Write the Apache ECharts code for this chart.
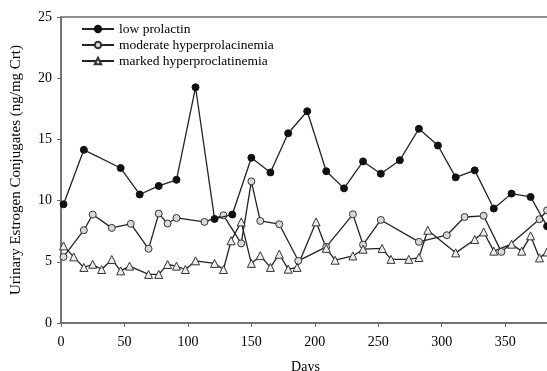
<!DOCTYPE html>
<html>
<head>
<meta charset="utf-8">
<script src="https://cdn.jsdelivr.net/npm/echarts@6/dist/echarts.min.js"></script>
<style>
  html, body { margin: 0; padding: 0; background: #fff; }
  #chart { width: 547px; height: 371px; }
</style>
</head>
<body>
<div id="chart"></div>
<script>
// Urinary estrogen conjugates by day, three prolactin groups
const lowDays = [2, 18, 47, 62, 77, 91, 106, 121, 135, 150, 165, 179, 194, 209, 223, 238, 252, 267, 282, 297, 311, 326, 341, 355, 370, 383];
const lowValues = [9.7, 14.15, 12.66, 10.5, 11.2, 11.7, 19.26, 8.5, 8.86, 13.5, 12.3, 15.5, 17.3, 12.4, 11.0, 13.2, 12.2, 13.3, 15.87, 14.5, 11.9, 12.47, 9.35, 10.57, 10.3, 7.9];

const moderateDays = [2, 18, 25, 40, 55, 69, 77, 84, 91, 113, 128, 142, 150, 157, 172, 187, 209, 230, 238, 252, 282, 304, 318, 333, 347, 377, 383];
const moderateValues = [5.4, 7.58, 8.86, 7.77, 8.1, 6.06, 8.94, 8.13, 8.58, 8.26, 8.8, 6.5, 11.57, 8.34, 8.07, 5.08, 6.22, 8.88, 6.4, 8.42, 6.63, 7.17, 8.66, 8.76, 5.81, 8.48, 9.2];

const markedDays = [2, 10, 18, 25, 32, 40, 47, 54, 69, 77, 84, 91, 98, 106, 121, 128, 134, 142, 150, 157, 165, 172, 179, 186, 201, 209, 216, 230, 238, 253, 260, 274, 282, 289, 311, 326, 333, 341, 355, 363, 370, 377, 383];
const markedValues = [6.3, 5.4, 4.54, 4.8, 4.37, 5.19, 4.26, 4.65, 3.97, 3.97, 4.78, 4.65, 4.37, 5.08, 4.87, 4.37, 6.72, 8.26, 4.87, 5.5, 4.54, 5.62, 4.4, 4.54, 8.26, 6.1, 5.13, 5.48, 6.03, 6.09, 5.2, 5.2, 5.35, 7.58, 5.73, 6.82, 7.44, 5.87, 6.44, 5.87, 7.12, 5.32, 5.8];

const xTicks = [0, 50, 100, 150, 200, 250, 300, 350];
const seriesNames = ['low prolactin', 'moderate hyperprolacinemia', 'marked hyperproclatinemia'];

const pairs = (xs, ys) => xs.map((x, i) => [x, ys[i]]);

const font = '"Liberation Serif", "Times New Roman", serif';
const lineColor = '#222';
const axisColor = '#6a6a6a';

const chart = echarts.init(document.getElementById('chart'), null, { renderer: 'canvas' });

chart.setOption({
  animation: false,
  backgroundColor: '#fff',
  textStyle: { fontFamily: font, color: '#000' },
  // frame runs past the right edge of the canvas, so only top/left/bottom show
  grid: {
    left: 61, right: -3, top: 17, bottom: 48,
    outerBoundsMode: 'none', containLabel: false,
    show: true, borderColor: axisColor, borderWidth: 1.5, backgroundColor: 'transparent'
  },
  legend: {
    orient: 'vertical',
    left: 76,
    top: 17,
    itemWidth: 32,
    itemHeight: 8,
    itemGap: 2,
    textStyle: { fontFamily: font, fontSize: 13.5, color: '#000' },
    data: seriesNames
  },
  xAxis: {
    type: 'value',
    min: 0,
    max: 385.3,
    name: 'Days',
    nameLocation: 'middle',
    nameGap: 37,
    nameTextStyle: { fontFamily: font, fontSize: 14, color: '#000' },
    axisLine: { show: true, lineStyle: { color: axisColor, width: 1.5 } },
    axisTick: { show: true, inside: false, length: 4, lineStyle: { color: axisColor }, customValues: xTicks },
    axisLabel: { fontFamily: font, fontSize: 14, color: '#000', margin: 12, customValues: xTicks },
    splitLine: { show: false }
  },
  yAxis: {
    type: 'value',
    min: 0,
    max: 25,
    interval: 5,
    name: 'Urinary Estrogen Conjugates (ng/mg Crt)',
    nameLocation: 'middle',
    nameGap: 37,
    nameTextStyle: { fontFamily: font, fontSize: 15, color: '#000' },
    axisLine: { show: true, lineStyle: { color: axisColor, width: 1.5 } },
    axisTick: { show: true, inside: false, length: 4, lineStyle: { color: axisColor } },
    axisLabel: { fontFamily: font, fontSize: 14, color: '#000', margin: 9 },
    splitLine: { show: false }
  },
  series: [
    {
      name: seriesNames[0],
      type: 'line',
      data: pairs(lowDays, lowValues),
      symbol: 'circle',
      symbolSize: 7,
      itemStyle: { color: '#111', borderColor: '#111', borderWidth: 1 },
      lineStyle: { color: lineColor, width: 1.3 },
      z: 3
    },
    {
      name: seriesNames[1],
      type: 'line',
      data: pairs(moderateDays, moderateValues),
      symbol: 'circle',
      symbolSize: 7,
      itemStyle: { color: '#d9d9d9', borderColor: '#333', borderWidth: 1 },
      lineStyle: { color: lineColor, width: 1.3 },
      z: 2
    },
    {
      name: seriesNames[2],
      type: 'line',
      data: pairs(markedDays, markedValues),
      symbol: 'triangle',
      symbolSize: 8,
      itemStyle: { color: '#eee', borderColor: '#333', borderWidth: 1 },
      lineStyle: { color: lineColor, width: 1.3 },
      z: 2
    }
  ]
});
</script>
</body>
</html>
